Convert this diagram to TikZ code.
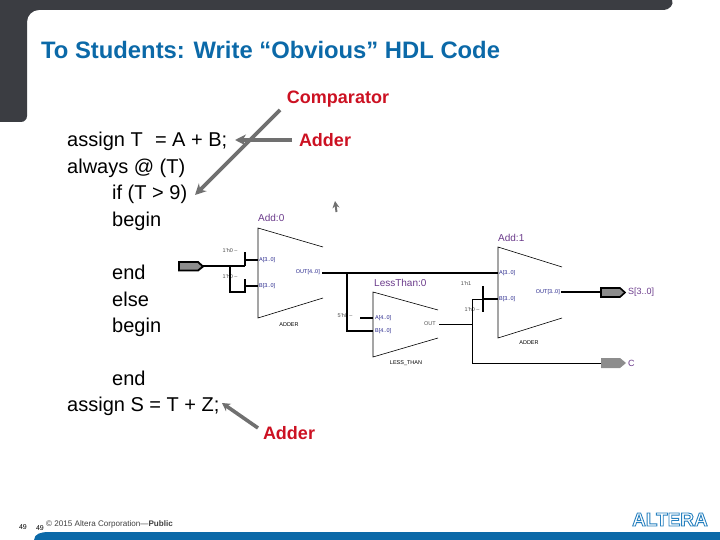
\documentclass[tikz,border=0pt]{standalone}
\usepackage{fontspec}
\setmainfont{Liberation Sans}
\usetikzlibrary{arrows.meta}
\definecolor{panel}{HTML}{3B3D42}
\definecolor{brand}{HTML}{0B69A8}
\definecolor{callred}{HTML}{CC1122}
\definecolor{callgray}{HTML}{707070}
\definecolor{pinpurple}{HTML}{6A3A8A}
\definecolor{portblue}{HTML}{22228A}
\newcommand{\fs}[1]{\fontsize{#1}{#1}\selectfont}
\tikzset{
 x=1pt,y=-1pt,
 codeline/.style={anchor=base west,inner sep=0pt,font=\fs{20}},
 calllabel/.style={inner sep=0pt,anchor=base,text=callred,font=\fs{18}\bfseries},
 callarrow/.style={draw=callgray,line width=3.6pt,-{Stealth[length=11pt,width=11pt]}},
 block/.style={draw=black,line width=0.6pt,fill=white},
 thick wire/.style={draw=black,line width=2.2pt},
 mid wire/.style={draw=black,line width=1.4pt},
 thin wire/.style={draw=black,line width=1pt},
 pinname/.style={inner sep=0pt,text=pinpurple,font=\fs{9}},
 blockname/.style={inner sep=0pt,text=pinpurple,font=\fs{10}},
 typename/.style={inner sep=0pt,text=black,font=\fs{5.5}},
 port/.style={inner sep=0pt,text=portblue,font=\fs{5.5}},
 constant/.style={inner sep=0pt,text=black!70,font=\fs{5.5}},
}
\begin{document}
\begin{tikzpicture}
\useasboundingbox (0,0) rectangle (720,540);
% frame
\fill[panel] (0,0) -- (672,0) to[out=-60,in=0] (664,10) -- (39,10) to[out=180,in=90] (27,22) -- (27,116) to[out=-90,in=0] (21,122) -- (0,122) -- cycle;
\fill[brand] (34,540) to[out=90,in=180] (48,532) -- (720,532) -- (720,540) -- cycle;
\node[anchor=base west,inner sep=0pt,text=brand,font=\fs{23.8}\bfseries] (title) at (41,59) {To Students: Write “Obvious” HDL Code};
% code
\node[codeline] (c1) at (67,147) {assign T\,\, = A + B;};
\node[codeline] (c2) at (67,174) {always @ (T)};
\node[codeline] (c3) at (112,200) {if (T > 9)};
\node[codeline] (c4) at (112,226) {begin};
\node[codeline] (c5) at (112,279) {end};
\node[codeline] (c6) at (112,306) {else};
\node[codeline] (c7) at (112,332) {begin};
\node[codeline] (c8) at (112,385) {end};
\node[codeline] (c9) at (67,411) {assign S = T + Z;};
% schematic blocks
\path[fill=white] (258,228) -- (323,247) -- (323,298) -- (258,318) -- cycle;
\draw[block] (323,247) -- (258,228) -- (258,318) -- (323,298);
\draw[block] (438,310) -- (373,292) -- (373,357) -- (438,338);
\draw[block] (562,267) -- (498,247) -- (498,338) -- (562,318);
\node[blockname,anchor=west] (add0) at (258,218) {Add:0};
\node[blockname,anchor=west] (lt0) at (374,283) {LessThan:0};
\node[blockname,anchor=west] (add1) at (498,238) {Add:1};
\node[typename] (t0) at (289,325) {ADDER};
\node[typename] (t1) at (406,363) {LESS\_THAN};
\node[typename] (t2) at (529,343) {ADDER};
\node[port,anchor=west] (p1) at (259,260) {A[3..0]};
\node[port,anchor=west] (p2) at (259,286) {B[3..0]};
\node[port,anchor=east] (p3) at (320,272) {OUT[4..0]};
\node[port,anchor=west] (p4) at (375,318) {A[4..0]};
\node[port,anchor=west] (p5) at (375,331) {B[4..0]};
\node[constant,anchor=east] (p6) at (436,324) {OUT};
\node[port,anchor=west] (p7) at (499,273) {A[3..0]};
\node[port,anchor=west] (p8) at (499,299) {B[3..0]};
\node[port,anchor=east] (p9) at (560,292) {OUT[3..0]};
\node[constant] (k1) at (230,251) {1'h0 --};
\node[constant] (k2) at (230,277) {1'h0 --};
\node[constant] (k3) at (345,316) {5'h0 --};
\node[constant] (k4) at (466,284) {1'h1};
\node[constant] (k5) at (472,310) {1'h0 --};
% pins
\node[inner sep=0pt,minimum size=0pt] (inA) at (203,266) {};
\filldraw[fill=callgray!80,draw=black,line width=1.8pt] (179,262) -- (198,262) -- (203,266.5) -- (198,270.5) -- (179,270.5) -- cycle;
\coordinate (outS) at (601,292);
\filldraw[fill=callgray!80,draw=black,line width=1.6pt] (601,288) -- (620,288) -- (625,292.5) -- (620,297) -- (601,297) -- cycle;
\coordinate (outC) at (601,363);
\fill[callgray!80] (601,358) -- (620,358) -- (626,363) -- (620,368) -- (601,368) -- cycle;
\node[pinname,anchor=west] (sn) at (628,292) {S[3..0]};
\node[pinname,anchor=west] (cn) at (628,363) {C};
% wires
\coordinate (j1) at (245,266); \coordinate (j2) at (230,266);
\coordinate (a0a) at (258,260); \coordinate (a0b) at (258,286);
\draw[mid wire] (inA) -- (j1);
\draw[thick wire] (245,252) -- (j1);
\draw[thick wire] (245,260) -- (a0a);
\draw[thick wire] (j2) |- (245,292);
\draw[thick wire] (245,279) -- (245,293);
\draw[thick wire] (245,286) -- (a0b);
\coordinate (oA) at (322,273); \coordinate (a1a) at (498,273); \coordinate (j3) at (347,273);
\coordinate (lb) at (373,331); \coordinate (la) at (373,318);
\draw[thick wire] (oA) -- (a1a);
\draw[thick wire] (j3) |- (lb);
\draw[thick wire] (360,318) -- (la);
\coordinate (ltout) at (439,324.5); \coordinate (j4) at (472,324.5); \coordinate (a1b) at (498,299);
\draw[thin wire] (ltout) -- (j4);
\draw[thin wire] (472,299) -- (472,363) -- (outC);
\draw[thin wire] (472,299) -- (483,299);
\draw[thick wire] (483,299) -- (a1b);
\draw[thick wire] (483,286) -- (483,312);
\coordinate (a1o) at (561,292);
\draw[thick wire] (a1o) -- (outS);
% callouts
\node[calllabel] (cmp) at (338,104) {Comparator};
\node[calllabel] (ad1) at (325,147) {Adder};
\node[calllabel] (ad2) at (289,439) {Adder};
\coordinate (cmpStart) at (280,110); \coordinate (cmpEnd) at (195,195);
\coordinate (ad1Start) at (292,140); \coordinate (ad1End) at (235,140);
\coordinate (ad2Start) at (258,428); \coordinate (ad2End) at (222,403);
\draw[callarrow] (ad1Start) -- (ad1End);
\draw[callarrow] (cmpStart) -- (cmpEnd);
\draw[callarrow,-{Stealth[length=8pt,width=9pt]}] (ad2Start) -- (ad2End);
\coordinate (fragA) at (336.5,212); \coordinate (fragB) at (335,201);
\draw[draw=callgray,line width=2pt,-{Stealth[length=7pt,width=7pt]}] (fragA) -- (fragB);
% footer
\node[inner sep=0pt,text=black!75,anchor=west,font=\fs{8.1}] (copy) at (46,524) {© 2015 Altera Corporation—\textbf{Public}};
\node[inner sep=0pt,font=\fs{7}] (n1) at (23,527) {49};
\node[inner sep=0pt,font=\fs{7}] (n2) at (40,528) {49};
\node[inner sep=0pt,anchor=east,text=white,font=\fs{19}\bfseries] (logo) at (708,519.5) {\special{pdf:code 2 Tr 0.9 w 0.15 0.5 0.75 RG}ALTERA\special{pdf:code 0 Tr}};
\end{tikzpicture}
\end{document}
